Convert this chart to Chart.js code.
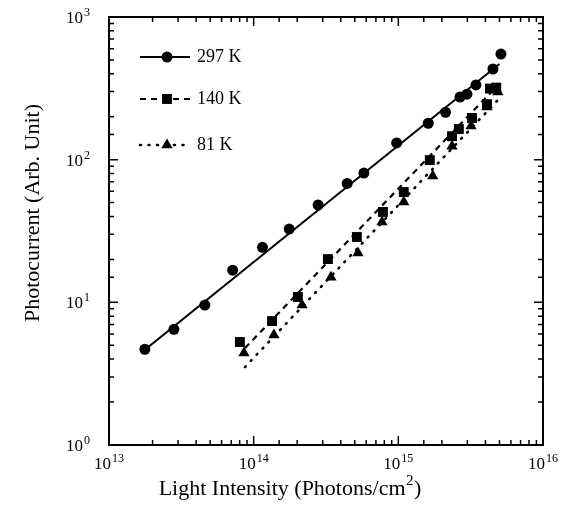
<!DOCTYPE html>
<html>
<head>
<meta charset="utf-8">
<script src="https://cdn.jsdelivr.net/npm/chart.js@4.4.1/dist/chart.umd.min.js"></script>
<style>
html,body{margin:0;padding:0;background:#fff;}
canvas{display:block;}
</style>
</head>
<body>
<canvas id="c" width="565" height="527"></canvas>
<script>
// ---- Data ----
const seriesNames = ['297 K', '140 K', '81 K'];

const intensity297 = [1.77e13, 2.81e13, 4.60e13, 7.16e13, 1.15e14, 1.76e14, 2.79e14, 4.43e14, 5.78e14, 9.73e14, 1.61e15, 2.12e15, 2.67e15, 2.98e15, 3.44e15, 4.51e15, 5.12e15];
const current297   = [4.69, 6.47, 9.58, 16.8, 24.3, 32.6, 48.1, 68.2, 80.5, 131, 180, 215, 275, 288, 334, 432, 550];

const intensity140 = [8.03e13, 1.34e14, 2.02e14, 3.26e14, 5.17e14, 7.83e14, 1.09e15, 1.65e15, 2.35e15, 2.62e15, 3.23e15, 4.10e15, 4.30e15, 4.75e15];
const current140   = [5.27, 7.39, 10.9, 20.1, 28.7, 43.0, 59.3, 99.3, 146, 164, 196, 245, 315, 320];

const intensity81  = [8.57e13, 1.38e14, 2.16e14, 3.42e14, 5.26e14, 7.71e14, 1.09e15, 1.73e15, 2.35e15, 3.18e15, 4.10e15, 4.88e15];
const current81    = [4.41, 5.90, 9.58, 15.0, 22.2, 36.5, 50.5, 76.8, 124, 172, 234, 298];

// fitted lines (end points)
const fitX297 = [1.77e13, 5.0e15];
const fitY297 = [4.65, 468];
const fitX140 = [8.71e13, 4.88e15];
const fitY140 = [4.78, 333];
const fitX81  = [8.71e13, 4.95e15];
const fitY81  = [3.52, 266];

// tick labels (base and exponent)
const tickBase    = '10';
const xTickExps   = ['13', '14', '15', '16'];
const yTickExps   = ['0', '1', '2', '3'];

const xTitleMain = 'Light Intensity (Photons/cm';
const xTitleSup  = '2';
const xTitleEnd  = ')';
const yTitle = 'Photocurrent (Arb. Unit)';

// ---- Build ----
const FONT = "'Liberation Serif', 'Times New Roman', serif";
const toPts = (xs, ys) => xs.map((x, i) => ({x: x, y: ys[i]}));

const lineStyles = [
  {dash: [], width: 2, cap: 'butt'},
  {dash: [6, 5], width: 2.2, cap: 'butt'},
  {dash: [1, 7.5], width: 2.6, cap: 'round'}
];
const markerStyles = ['circle', 'rect', 'triangle'];
const markerRadius = [5.5, 7, 6.5];

const datasets = [
  {label: seriesNames[0] + ' fit', data: toPts(fitX297, fitY297), showLine: true, borderColor: '#000', borderWidth: lineStyles[0].width, borderDash: lineStyles[0].dash, pointRadius: 0},
  {label: seriesNames[1] + ' fit', data: toPts(fitX140, fitY140), showLine: true, borderColor: '#000', borderWidth: lineStyles[1].width, borderDash: lineStyles[1].dash, pointRadius: 0},
  {label: seriesNames[2] + ' fit', data: toPts(fitX81, fitY81), showLine: true, borderColor: '#000', borderWidth: lineStyles[2].width, borderDash: lineStyles[2].dash, borderCapStyle: 'round', pointRadius: 0},
  {label: seriesNames[0], data: toPts(intensity297, current297), showLine: false, pointStyle: markerStyles[0], pointRadius: markerRadius[0], backgroundColor: '#000', borderColor: '#000', borderWidth: 0},
  {label: seriesNames[1], data: toPts(intensity140, current140), showLine: false, pointStyle: markerStyles[1], pointRadius: markerRadius[1], backgroundColor: '#000', borderColor: '#000', borderWidth: 0},
  {label: seriesNames[2], data: toPts(intensity81, current81), showLine: false, pointStyle: markerStyles[2], pointRadius: markerRadius[2], backgroundColor: '#000', borderColor: '#000', borderWidth: 0}
];

function isMajor(v) {
  const l = Math.log10(v);
  return Math.abs(l - Math.round(l)) < 1e-6;
}

function drawMarker(ctx, style, x, y, r) {
  ctx.beginPath();
  if (style === 'circle') {
    ctx.arc(x, y, r, 0, Math.PI * 2);
  } else if (style === 'rect') {
    const s = r * Math.SQRT1_2;
    ctx.rect(x - s, y - s, 2 * s, 2 * s);
  } else {
    ctx.moveTo(x, y - r);
    ctx.lineTo(x + r * Math.sin(2 * Math.PI / 3), y - r * Math.cos(2 * Math.PI / 3));
    ctx.lineTo(x + r * Math.sin(4 * Math.PI / 3), y - r * Math.cos(4 * Math.PI / 3));
    ctx.closePath();
  }
  ctx.fill();
}

const BASE_F = '17px ' + FONT;
const SUP_F = '12px ' + FONT;

// draws "10^exp"; align: 'center' or 'right' around x; baseline y for base
function drawPow(ctx, exp, x, y, align) {
  ctx.font = BASE_F;
  const wb = ctx.measureText(tickBase).width;
  ctx.font = SUP_F;
  const we = ctx.measureText(exp).width;
  const total = wb + 1 + we;
  let x0 = align === 'right' ? x - total : x - total / 2;
  ctx.textAlign = 'left';
  ctx.textBaseline = 'alphabetic';
  ctx.font = BASE_F;
  ctx.fillText(tickBase, x0, y);
  ctx.font = SUP_F;
  ctx.fillText(exp, x0 + wb + 1, y - 7);
}

const framePlugin = {
  id: 'frame',
  afterDraw(chart) {
    const ctx = chart.ctx;
    const ca = chart.chartArea;
    ctx.save();
    ctx.strokeStyle = '#000';
    ctx.fillStyle = '#000';
    ctx.setLineDash([]);
    // frame
    ctx.lineWidth = 2;
    ctx.strokeRect(ca.left, ca.top, ca.right - ca.left, ca.bottom - ca.top);
    // inward tick marks on all four sides
    ctx.lineWidth = 1.5;
    const xs = chart.scales.x, ys = chart.scales.y;
    xs.ticks.forEach(t => {
      const p = xs.getPixelForValue(t.value);
      if (p <= ca.left + 1 || p >= ca.right - 1) return;
      const len = isMajor(t.value) ? 9 : 5;
      ctx.beginPath();
      ctx.moveTo(p, ca.bottom); ctx.lineTo(p, ca.bottom - len);
      ctx.moveTo(p, ca.top); ctx.lineTo(p, ca.top + len);
      ctx.stroke();
    });
    ys.ticks.forEach(t => {
      const p = ys.getPixelForValue(t.value);
      if (p <= ca.top + 1 || p >= ca.bottom - 1) return;
      const len = isMajor(t.value) ? 9 : 5;
      ctx.beginPath();
      ctx.moveTo(ca.left, p); ctx.lineTo(ca.left + len, p);
      ctx.moveTo(ca.right, p); ctx.lineTo(ca.right - len, p);
      ctx.stroke();
    });
    // tick labels with superscript exponents
    xTickExps.forEach(e => {
      const p = xs.getPixelForValue(Math.pow(10, +e));
      drawPow(ctx, e, p, 469, 'center');
    });
    yTickExps.forEach(e => {
      const p = ys.getPixelForValue(Math.pow(10, +e));
      drawPow(ctx, e, 90, p + 6, 'right');
    });
    // legend inside plot
    const legY = [57, 99, 145];
    ctx.font = '18px ' + FONT;
    ctx.textBaseline = 'middle';
    ctx.textAlign = 'left';
    for (let i = 0; i < 3; i++) {
      ctx.lineWidth = lineStyles[i].width;
      ctx.setLineDash(lineStyles[i].dash);
      ctx.lineCap = lineStyles[i].cap;
      ctx.beginPath();
      ctx.moveTo(140, legY[i]); ctx.lineTo(190, legY[i]);
      ctx.stroke();
      ctx.setLineDash([]);
      ctx.lineCap = 'butt';
      drawMarker(ctx, markerStyles[i], 167, legY[i], markerRadius[i]);
      ctx.fillText(seriesNames[i], 197, legY[i]);
    }
    // x axis title with superscript
    ctx.textBaseline = 'alphabetic';
    ctx.textAlign = 'left';
    const TF = '22px ' + FONT, TS = '15px ' + FONT;
    ctx.font = TF;
    const w1 = ctx.measureText(xTitleMain).width;
    const w3 = ctx.measureText(xTitleEnd).width;
    ctx.font = TS;
    const w2 = ctx.measureText(xTitleSup).width;
    let tx = 290 - (w1 + w2 + w3 + 1) / 2;
    ctx.font = TF; ctx.fillText(xTitleMain, tx, 495);
    ctx.font = TS; ctx.fillText(xTitleSup, tx + w1 + 0.5, 485);
    ctx.font = TF; ctx.fillText(xTitleEnd, tx + w1 + w2 + 1, 495);
    // y axis title
    ctx.textAlign = 'center';
    ctx.translate(39, 213);
    ctx.rotate(-Math.PI / 2);
    ctx.fillText(yTitle, 0, 0);
    ctx.restore();
  }
};

new Chart(document.getElementById('c'), {
  type: 'scatter',
  data: {datasets: datasets},
  options: {
    responsive: false,
    animation: false,
    layout: {padding: {top: 17, right: 22, left: 0, bottom: 0}},
    plugins: {legend: {display: false}, tooltip: {enabled: false}},
    scales: {
      x: {
        type: 'logarithmic', min: 1e13, max: 1e16,
        afterFit(s) { s.height = 82; },
        grid: {display: false, drawTicks: false},
        border: {display: false},
        ticks: {display: false, autoSkip: false}
      },
      y: {
        type: 'logarithmic', min: 1, max: 1000,
        afterFit(s) { s.width = 109; },
        grid: {display: false, drawTicks: false},
        border: {display: false},
        ticks: {display: false, autoSkip: false}
      }
    }
  },
  plugins: [framePlugin]
});
</script>
</body>
</html>
